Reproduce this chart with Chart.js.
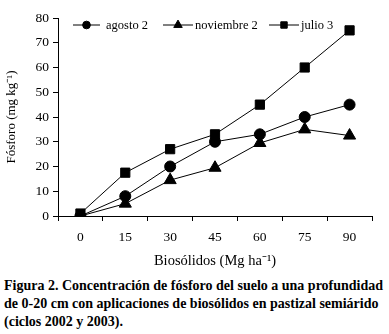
<!DOCTYPE html>
<html>
<head>
<meta charset="utf-8">
<script src="https://cdn.jsdelivr.net/npm/chart.js@4"></script>
<style>
  html, body { margin: 0; padding: 0; background: #fff; }
  #wrap { position: relative; width: 389px; height: 334px; }
  #chart { position: absolute; left: 0; top: 0; }
  #caption {
    position: absolute; left: 4px; top: 277px; width: 385px;
    font: bold 14px "Liberation Serif", "Times New Roman", serif;
    line-height: 18px; color: #000; white-space: nowrap;
  }
</style>
</head>
<body>
<div id="wrap">
  <canvas id="chart" width="389" height="274"></canvas>
  <div id="caption">Figura 2. Concentración de fósforo del suelo a una profundidad<br>de 0-20 cm con aplicaciones de biosólidos en pastizal semiárido<br>(ciclos 2002 y 2003).</div>
</div>
<script>
"use strict";

const doses = ["0", "15", "30", "45", "60", "75", "90"];
const agosto2 = [0, 8, 20, 30, 33, 40, 45];
const noviembre2 = [0, 5, 14.5, 19.5, 29.5, 35, 32.5];
const julio3 = [1, 17.5, 27, 33, 45, 60, 75];
const yTicks = [0, 10, 20, 30, 40, 50, 60, 70, 80];

const FONT = "'Liberation Serif', 'Times New Roman', serif";

// legend drawn as line + marker in the middle, like the original figure
const lineLegend = {
  id: "lineLegend",
  afterDraw(chart) {
    const ctx = chart.ctx;
    const slots = [
      { x0: 73, x1: 100, tx: 106 },
      { x0: 163, x1: 193, tx: 195 },
      { x0: 269, x1: 299, tx: 301 },
    ];
    const y = 25;
    ctx.save();
    chart.data.datasets.forEach((ds, i) => {
      const s = slots[i];
      ctx.strokeStyle = "#000";
      ctx.lineWidth = 1;
      ctx.beginPath();
      ctx.moveTo(s.x0, y);
      ctx.lineTo(s.x1, y);
      ctx.stroke();
      Chart.helpers.drawPoint(ctx, {
        pointStyle: ds.pointStyle,
        radius: ds.pointRadius * 0.7,
        borderWidth: 1,
      }, (s.x0 + s.x1) / 2, y);
      ctx.fillStyle = "#000";
      ctx.font = "12.5px " + FONT;
      ctx.textBaseline = "middle";
      ctx.fillText(ds.label, s.tx, y + 1);
    });
    ctx.restore();
  },
};

function series(label, data, style, radius) {
  return {
    label,
    data,
    borderColor: "#000",
    borderWidth: 1,
    backgroundColor: "#000",
    pointBackgroundColor: "#000",
    pointBorderColor: "#000",
    pointStyle: style,
    pointRadius: radius,
    tension: 0,
    fill: false,
  };
}

new Chart(document.getElementById("chart"), {
  type: "line",
  data: {
    labels: doses,
    datasets: [
      series("agosto 2", agosto2, "circle", 5.5),
      series("noviembre 2", noviembre2, "triangle", 7),
      series("julio 3", julio3, "rect", 6.5),
    ],
  },
  options: {
    responsive: false,
    animation: false,
    layout: { padding: { left: 0, right: 17, top: 18, bottom: 0 } },
    plugins: { legend: { display: false }, tooltip: { enabled: false } },
    scales: {
      x: {
        offset: true,
        grid: { offset: true, drawOnChartArea: false, drawTicks: true, tickLength: 5, color: "#000" },
        border: { color: "#000", width: 1 },
        ticks: { color: "#000", font: { family: FONT, size: 13.5 }, padding: 8, maxRotation: 0 },
        title: { display: true, text: "Biosólidos (Mg ha⁻¹)", color: "#000", font: { family: FONT, size: 14.5 }, padding: { top: 7 } },
        afterFit: (s) => { s.height = 58; },
      },
      y: {
        min: 0,
        max: 80,
        afterBuildTicks: (s) => { s.ticks = yTicks.map((v) => ({ value: v })); },
        grid: { drawOnChartArea: false, drawTicks: true, tickLength: 5, color: "#000" },
        border: { color: "#000", width: 1 },
        ticks: { color: "#000", font: { family: FONT, size: 13.5 }, padding: 4 },
        title: { display: true, text: "Fósforo (mg kg⁻¹)", color: "#000", font: { family: FONT, size: 13 } },
        afterFit: (s) => { s.width = 58; },
      },
    },
  },
  plugins: [lineLegend],
});
</script>
</body>
</html>
